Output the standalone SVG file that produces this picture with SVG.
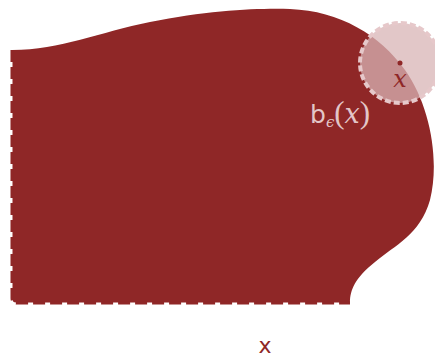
<svg xmlns="http://www.w3.org/2000/svg" width="435" height="359" viewBox="0 0 435 359">
<style>
.region{fill:#8f2727;}
.edge{fill:none;stroke:#8f2727;stroke-width:3;stroke-dasharray:12 5;stroke-linejoin:round;}
.ball{fill:#d8b4b6;fill-opacity:0.75;stroke:#e6c8ca;stroke-width:4;stroke-dasharray:6 3;}
.lbl{font-family:"DejaVu Serif",serif;font-style:italic;}
</style>
<g id="set">
<path class="region" d="M12.5,50 C60,50 100,32 150,22 C210,10 260,8 290,9 C340,11 380,35 405,70 C430,105 440,160 430,200 C420,235 395,245 375,262 C355,278 350,290 350,302.5 L16,302.5 Q12.5,302.5 12.5,299 Z"/>
<path class="edge" d="M12,50 L12,298 Q12,303 17,303 L350,303"/>
</g>
<g id="ball">
<circle class="ball" cx="400" cy="63" r="40"/>
<circle cx="400" cy="63" r="2.5" fill="#8f2727"/>
<text class="lbl" x="400" y="87" font-size="24" fill="#8f2727" text-anchor="middle">x</text>
</g>
<g id="label">
<text x="310" y="123" font-size="25" fill="#e3c6c8" font-family="DejaVu Sans,sans-serif">b<tspan font-size="15" dy="4" font-family="DejaVu Serif,serif" font-style="italic">ϵ</tspan><tspan dy="-4" font-size="31" font-family="Liberation Serif,serif">(</tspan><tspan font-size="27" font-family="DejaVu Serif,serif" font-style="italic">x</tspan><tspan font-size="31" font-family="Liberation Serif,serif">)</tspan></text>
</g>
<g id="setlabel">
<text x="265" y="353" font-size="22" fill="#8f2727" text-anchor="middle" font-family="DejaVu Sans,sans-serif">x</text>
</g>
</svg>
